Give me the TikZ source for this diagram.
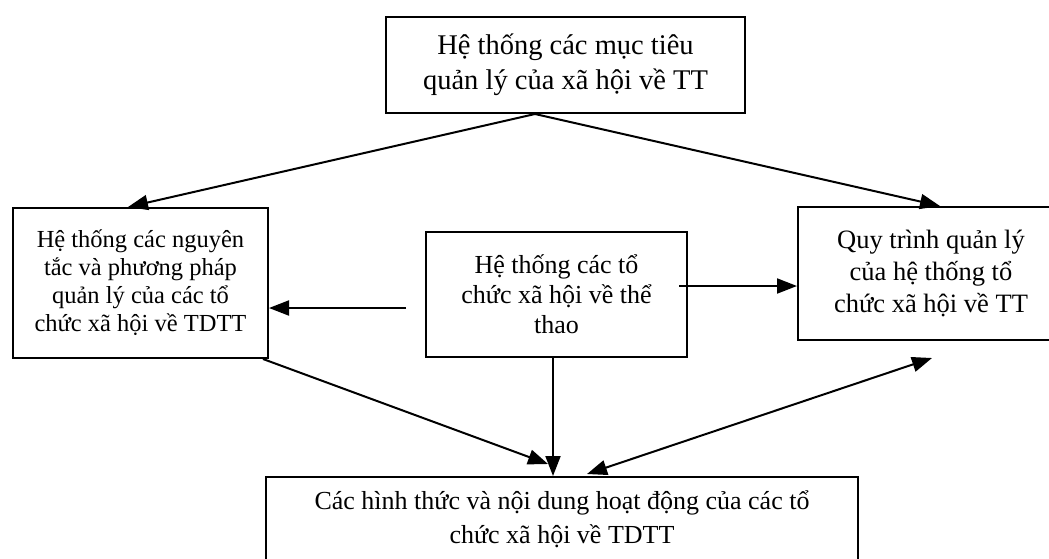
\documentclass[tikz,border=0pt]{standalone}
\usepackage{fontspec}
\setmainfont{Liberation Serif}
\usetikzlibrary{arrows.meta}
\tikzset{
  x=1pt, y=-1pt,
  boxnode/.style={draw=black, line width=2pt, inner sep=0pt, align=center, rectangle},
  conn/.style={line width=2pt, -{Triangle[length=20pt,width=15pt]}},
  conn2/.style={line width=2pt, {Triangle[length=20pt,width=15pt]}-{Triangle[length=20pt,width=15pt]}},
}
\begin{document}
\begin{tikzpicture}
\useasboundingbox (0,0) rectangle (1049,558);
\clip (0,0) rectangle (1049,558);
\fill[white] (0,0) rectangle (1049,558);

\node[boxnode, minimum width=359pt, minimum height=96pt,
      font=\fontsize{28.5}{35}\selectfont] (top) at (565.5,65)
  {Hệ thống các mục tiêu\\quản lý của xã hội về TT};

\node[boxnode, minimum width=255pt, minimum height=150pt,
      font=\fontsize{24.5}{28}\selectfont] (lft) at (140.5,283)
  {Hệ thống các nguyên\\tắc và phương pháp\\quản lý của các tổ\\chức xã hội về TDTT};

\node[boxnode, minimum width=261pt, minimum height=125pt,
      font=\fontsize{26}{30}\selectfont] (mid) at (556.5,294.5)
  {Hệ thống các tổ\\chức xã hội về thể\\thao};

\node[boxnode, minimum width=266pt, minimum height=133pt,
      font=\fontsize{26.5}{32}\selectfont] (rgt) at (931,273.5)
  {Quy trình quản lý\\của hệ thống tổ\\chức xã hội về TT};

\node[boxnode, minimum width=592pt, minimum height=84pt,
      font=\fontsize{26}{34}\selectfont] (bot) at (562,519)
  {Các hình thức và nội dung hoạt động của các tổ\\chức xã hội về TDTT};

% free ends and attachment points
\coordinate (ts) at ([xshift=-30.5pt]top.south);
\coordinate (ml) at ([xshift=-19pt,yshift=-13.5pt]mid.west);
\coordinate (mr) at ([xshift=-9pt,yshift=8.5pt]mid.east);

\draw[conn] (ts) -- ([xshift=-12.5pt]lft.north);
\draw[conn] (ts) -- ([xshift=9pt]rgt.north);
\draw[conn] (ml) -- (lft.east |- ml);
\draw[conn] (mr) -- (rgt.west |- mr);
\draw[conn] ([xshift=-6pt]lft.south east) -- ([xshift=-14pt,yshift=12pt]bot.north);
\draw[conn] ([xshift=-3.5pt]mid.south) -- ([xshift=-9pt]bot.north);
\draw[conn2] ([xshift=25pt,yshift=2pt]bot.north) -- ([xshift=1pt,yshift=-17pt]rgt.south);
\end{tikzpicture}
\end{document}
